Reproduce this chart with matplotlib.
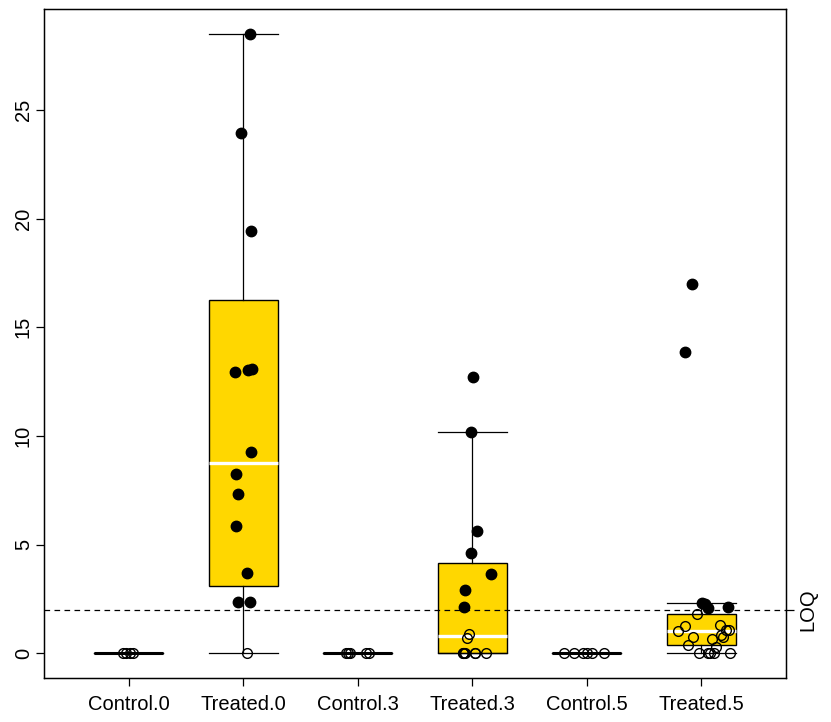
import matplotlib.pyplot as plt

plt.rcParams['font.family'] = ['Liberation Sans', 'DejaVu Sans']

groups = ["Control.0", "Treated.0", "Control.3", "Treated.3", "Control.5", "Treated.5"]
LOQ = 2.0

# box statistics: (low whisker, q1, median, q3, high whisker)
box_low = [0, 0, 0, 0, 0, 0]
box_q1 = [0, 3.08, 0, 0, 0, 0.40]
box_med = [0, 8.76, 0, 0.78, 0, 1.03]
box_q3 = [0, 16.24, 0, 4.17, 0, 1.80]
box_high = [0, 28.5, 0, 10.19, 0, 2.29]

# observed values per group
control0 = [0, 0, 0, 0]
treated0 = [28.5, 23.93, 19.43, 12.95, 13.03, 13.08, 9.27, 8.23, 7.32, 5.86, 3.70, 2.36, 2.36, 0]
control3 = [0, 0, 0, 0, 0]
treated3 = [12.72, 10.19, 5.63, 4.62, 3.64, 2.93, 2.13, 0.87, 0.68, 0, 0, 0, 0, 0, 0, 0]
control5 = [0, 0, 0, 0, 0, 0]
treated5 = [16.99, 13.86, 2.32, 2.25, 2.09, 2.13, 1.82, 1.26, 1.03, 1.29, 1.09, 1.09,
            0.83, 0.75, 0.75, 0.64, 0.40, 0.29, 0, 0, 0, 0, 0]

# horizontal jitter of each point, as seen in the picture
jit_control0 = [-0.05, -0.02, 0.01, 0.04]
jit_treated0 = [0.06, -0.02, 0.07, -0.07, 0.04, 0.08, 0.07, -0.06, -0.05, -0.06, 0.03, -0.05, 0.06, 0.03]
jit_control3 = [-0.10, -0.07, -0.085, 0.07, 0.10]
jit_treated3 = [0.01, -0.01, 0.04, -0.01, 0.16, -0.06, -0.07, -0.03, -0.05,
                -0.085, -0.075, -0.06, 0.02, 0.025, 0.12, -0.08]
jit_control5 = [-0.20, -0.11, -0.03, 0.0, 0.05, 0.15]
jit_treated5 = [-0.08, -0.14, 0.01, 0.03, 0.06, 0.23, -0.04, -0.14, -0.20, 0.16, 0.22, 0.24,
                0.17, 0.19, -0.07, 0.09, -0.12, 0.13, -0.02, 0.06, 0.08, 0.11, 0.25]

values = [control0, treated0, control3, treated3, control5, treated5]
jitters = [jit_control0, jit_treated0, jit_control3, jit_treated3, jit_control5, jit_treated5]

fig = plt.figure(figsize=(8.31, 7.22), dpi=100)
ax = fig.add_axes([44 / 831, 44 / 722, 742 / 831, 669 / 722])

stats = []
for i, name in enumerate(groups):
    stats.append(dict(label=name, whislo=box_low[i], q1=box_q1[i], med=box_med[i],
                      q3=box_q3[i], whishi=box_high[i], fliers=[]))

pos = list(range(1, len(groups) + 1))
bp = ax.bxp(stats, positions=pos, widths=0.6, capwidths=0.6, patch_artist=True,
            showfliers=False,
            boxprops=dict(facecolor="#FFD700", edgecolor="black", linewidth=1),
            medianprops=dict(color="white", linewidth=2.4),
            whiskerprops=dict(color="black", linewidth=0.9),
            capprops=dict(color="black", linewidth=0.9))
for i, med in enumerate(bp['medians']):
    if box_q3[i] == box_q1[i]:
        med.set_color("black")
        med.set_linewidth(2.2)
    med.set_solid_capstyle("butt")

ax.axhline(LOQ, color="black", linestyle=(0, (4.5, 3.5)), linewidth=0.9, zorder=4)

for i, (vals, jit) in enumerate(zip(values, jitters)):
    for v, j in zip(vals, jit):
        filled = v >= LOQ
        ax.plot(pos[i] + j, v, marker="o", markersize=7.5 if filled else 7,
                markerfacecolor="black" if filled else "none",
                markeredgecolor="black", markeredgewidth=1.0, linestyle="none", zorder=5)

ax.set_xlim(0.26, 6.74)
ax.set_ylim(-1.14, 29.64)
ax.set_xticks(pos)
ax.set_xticklabels(groups, fontsize=14.5)
ax.set_yticks([0, 5, 10, 15, 20, 25])
ax.set_yticklabels(["0", "5", "10", "15", "20", "25"], fontsize=14.5, rotation=90, va="center")
ax.tick_params(axis="both", direction="out", length=6, width=0.9, color="black")
ax.tick_params(axis="y", pad=2)
ax.tick_params(axis="x", pad=6)
for sp in ax.spines.values():
    sp.set_linewidth(1.0)
    sp.set_color("black")

ax2 = ax.twinx()
ax2.set_ylim(ax.get_ylim())
ax2.set_yticks([LOQ])
ax2.set_yticklabels(["LOQ"], fontsize=14.5, rotation=90, va="center")
ax2.tick_params(axis="y", direction="out", length=6, width=0.9, pad=3)

fig.savefig("out.png", dpi=100)
